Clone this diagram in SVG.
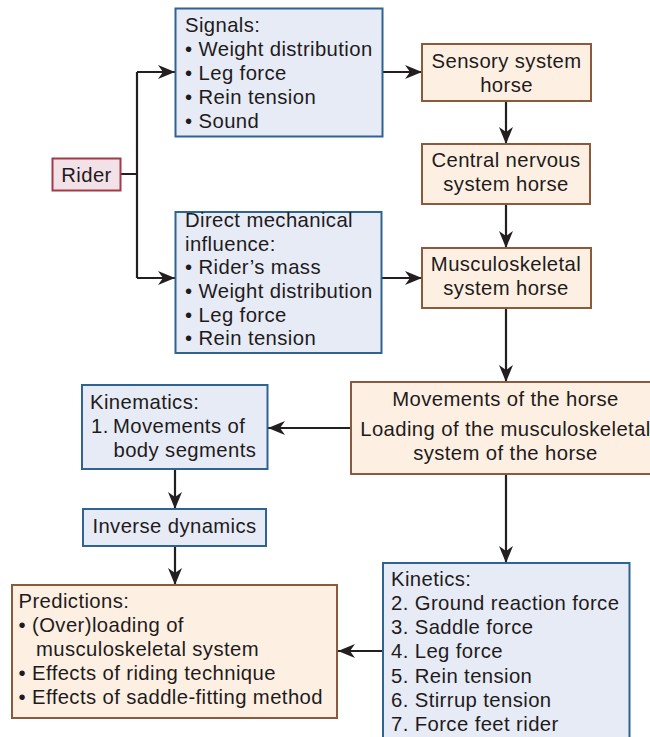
<svg xmlns="http://www.w3.org/2000/svg" width="650" height="737" viewBox="0 0 650 737">
  <style>
    text { font-family: "Liberation Sans", Arial, Helvetica, sans-serif; font-size: 20.3px; letter-spacing: 0.4px; fill: #1f1b1c; }
    .mid { text-anchor: middle; }
    .blue { fill: #e6ebf5; stroke: #2f6391; stroke-width: 2; }
    .tan { fill: #fdf0e2; stroke: #8b5a3c; stroke-width: 2; }
    .rider { fill: #f2e1e7; stroke: #a33a48; stroke-width: 2; }
    .wire { fill: none; stroke: #231f20; stroke-width: 2.2; }
    .arrow { fill: none; stroke: #231f20; stroke-width: 2.2; marker-end: url(#head); }
  </style>
  <defs>
    <marker id="head" viewBox="0 0 17 14" refX="17" refY="7" markerWidth="17" markerHeight="14" markerUnits="userSpaceOnUse" orient="auto">
      <path d="M0,0 L17,7 L0,14 L5,7 z" fill="#231f20"/>
    </marker>
  </defs>

  <rect width="650" height="737" fill="#ffffff"/>

  <!-- connectors -->
  <g id="connectors">
    <path class="wire" d="M121,174 H137 M137,72 V278"/>
    <path class="arrow" d="M137,72 H175"/>
    <path class="arrow" d="M137,278 H175"/>
    <path class="arrow" d="M383,72 H422"/>
    <path class="arrow" d="M382,278 H422"/>
    <path class="arrow" d="M506,101 V144"/>
    <path class="arrow" d="M506,204 V248"/>
    <path class="arrow" d="M506,308 V382"/>
    <path class="arrow" d="M506,474 V563"/>
    <path class="arrow" d="M351,428 H268"/>
    <path class="arrow" d="M175,469 V509"/>
    <path class="arrow" d="M175,546 V585"/>
    <path class="arrow" d="M383,651 H338"/>
  </g>

  <g id="rider">
    <rect class="rider" x="52.5" y="158.5" width="68" height="32"/>
    <text class="mid" x="86.5" y="181.5">Rider</text>
  </g>

  <g id="signals">
    <rect class="blue" x="175.5" y="8.5" width="207" height="128"/>
    <text x="185" y="32">Signals:</text>
    <text x="185" y="56">• Weight distribution</text>
    <text x="185" y="80">• Leg force</text>
    <text x="185" y="104">• Rein tension</text>
    <text x="185" y="128">• Sound</text>
  </g>

  <g id="direct-mechanical">
    <rect class="blue" x="175.5" y="212" width="206" height="141"/>
    <text x="185" y="227">Direct mechanical</text>
    <text x="185" y="250.5">influence:</text>
    <text x="185" y="274">• Rider’s mass</text>
    <text x="185" y="298">• Weight distribution</text>
    <text x="185" y="321.5">• Leg force</text>
    <text x="185" y="345">• Rein tension</text>
  </g>

  <g id="sensory">
    <rect class="tan" x="422" y="44" width="169" height="57"/>
    <text class="mid" x="506.5" y="68">Sensory system</text>
    <text class="mid" x="506.5" y="92">horse</text>
  </g>

  <g id="cns">
    <rect class="tan" x="422" y="144" width="168" height="60"/>
    <text class="mid" x="506" y="167">Central nervous</text>
    <text class="mid" x="506" y="191">system horse</text>
  </g>

  <g id="musculoskeletal">
    <rect class="tan" x="422" y="248" width="169" height="60"/>
    <text class="mid" x="506" y="271">Musculoskeletal</text>
    <text class="mid" x="506" y="295">system horse</text>
  </g>

  <g id="movements">
    <rect class="tan" x="351" y="382" width="310" height="92"/>
    <text class="mid" x="505.5" y="406">Movements of the horse</text>
    <text class="mid" x="505.5" y="436">Loading of the musculoskeletal</text>
    <text class="mid" x="505.5" y="460">system of the horse</text>
  </g>

  <g id="kinematics">
    <rect class="blue" x="82" y="385" width="185.5" height="84"/>
    <text x="90" y="409">Kinematics:</text>
    <text x="91" y="433">1.</text>
    <text x="113" y="433">Movements of</text>
    <text x="113.5" y="457">body segments</text>
  </g>

  <g id="inverse-dynamics">
    <rect class="blue" x="83" y="509" width="183" height="37"/>
    <text class="mid" x="174.5" y="533">Inverse dynamics</text>
  </g>

  <g id="predictions">
    <rect class="tan" x="12" y="585" width="325" height="133"/>
    <text x="18.5" y="608">Predictions:</text>
    <text x="18.5" y="632">• (Over)loading of</text>
    <text x="36" y="656">musculoskeletal system</text>
    <text x="18.5" y="680">• Effects of riding technique</text>
    <text x="18.5" y="703.5">• Effects of saddle-fitting method</text>
  </g>

  <g id="kinetics">
    <rect class="blue" x="383" y="563" width="246.5" height="190"/>
    <text x="391" y="586">Kinetics:</text>
    <text x="391" y="610">2. Ground reaction force</text>
    <text x="391" y="634">3. Saddle force</text>
    <text x="391" y="658">4. Leg force</text>
    <text x="391" y="682.5">5. Rein tension</text>
    <text x="391" y="706.5">6. Stirrup tension</text>
    <text x="391" y="730.5">7. Force feet rider</text>
  </g>
</svg>
